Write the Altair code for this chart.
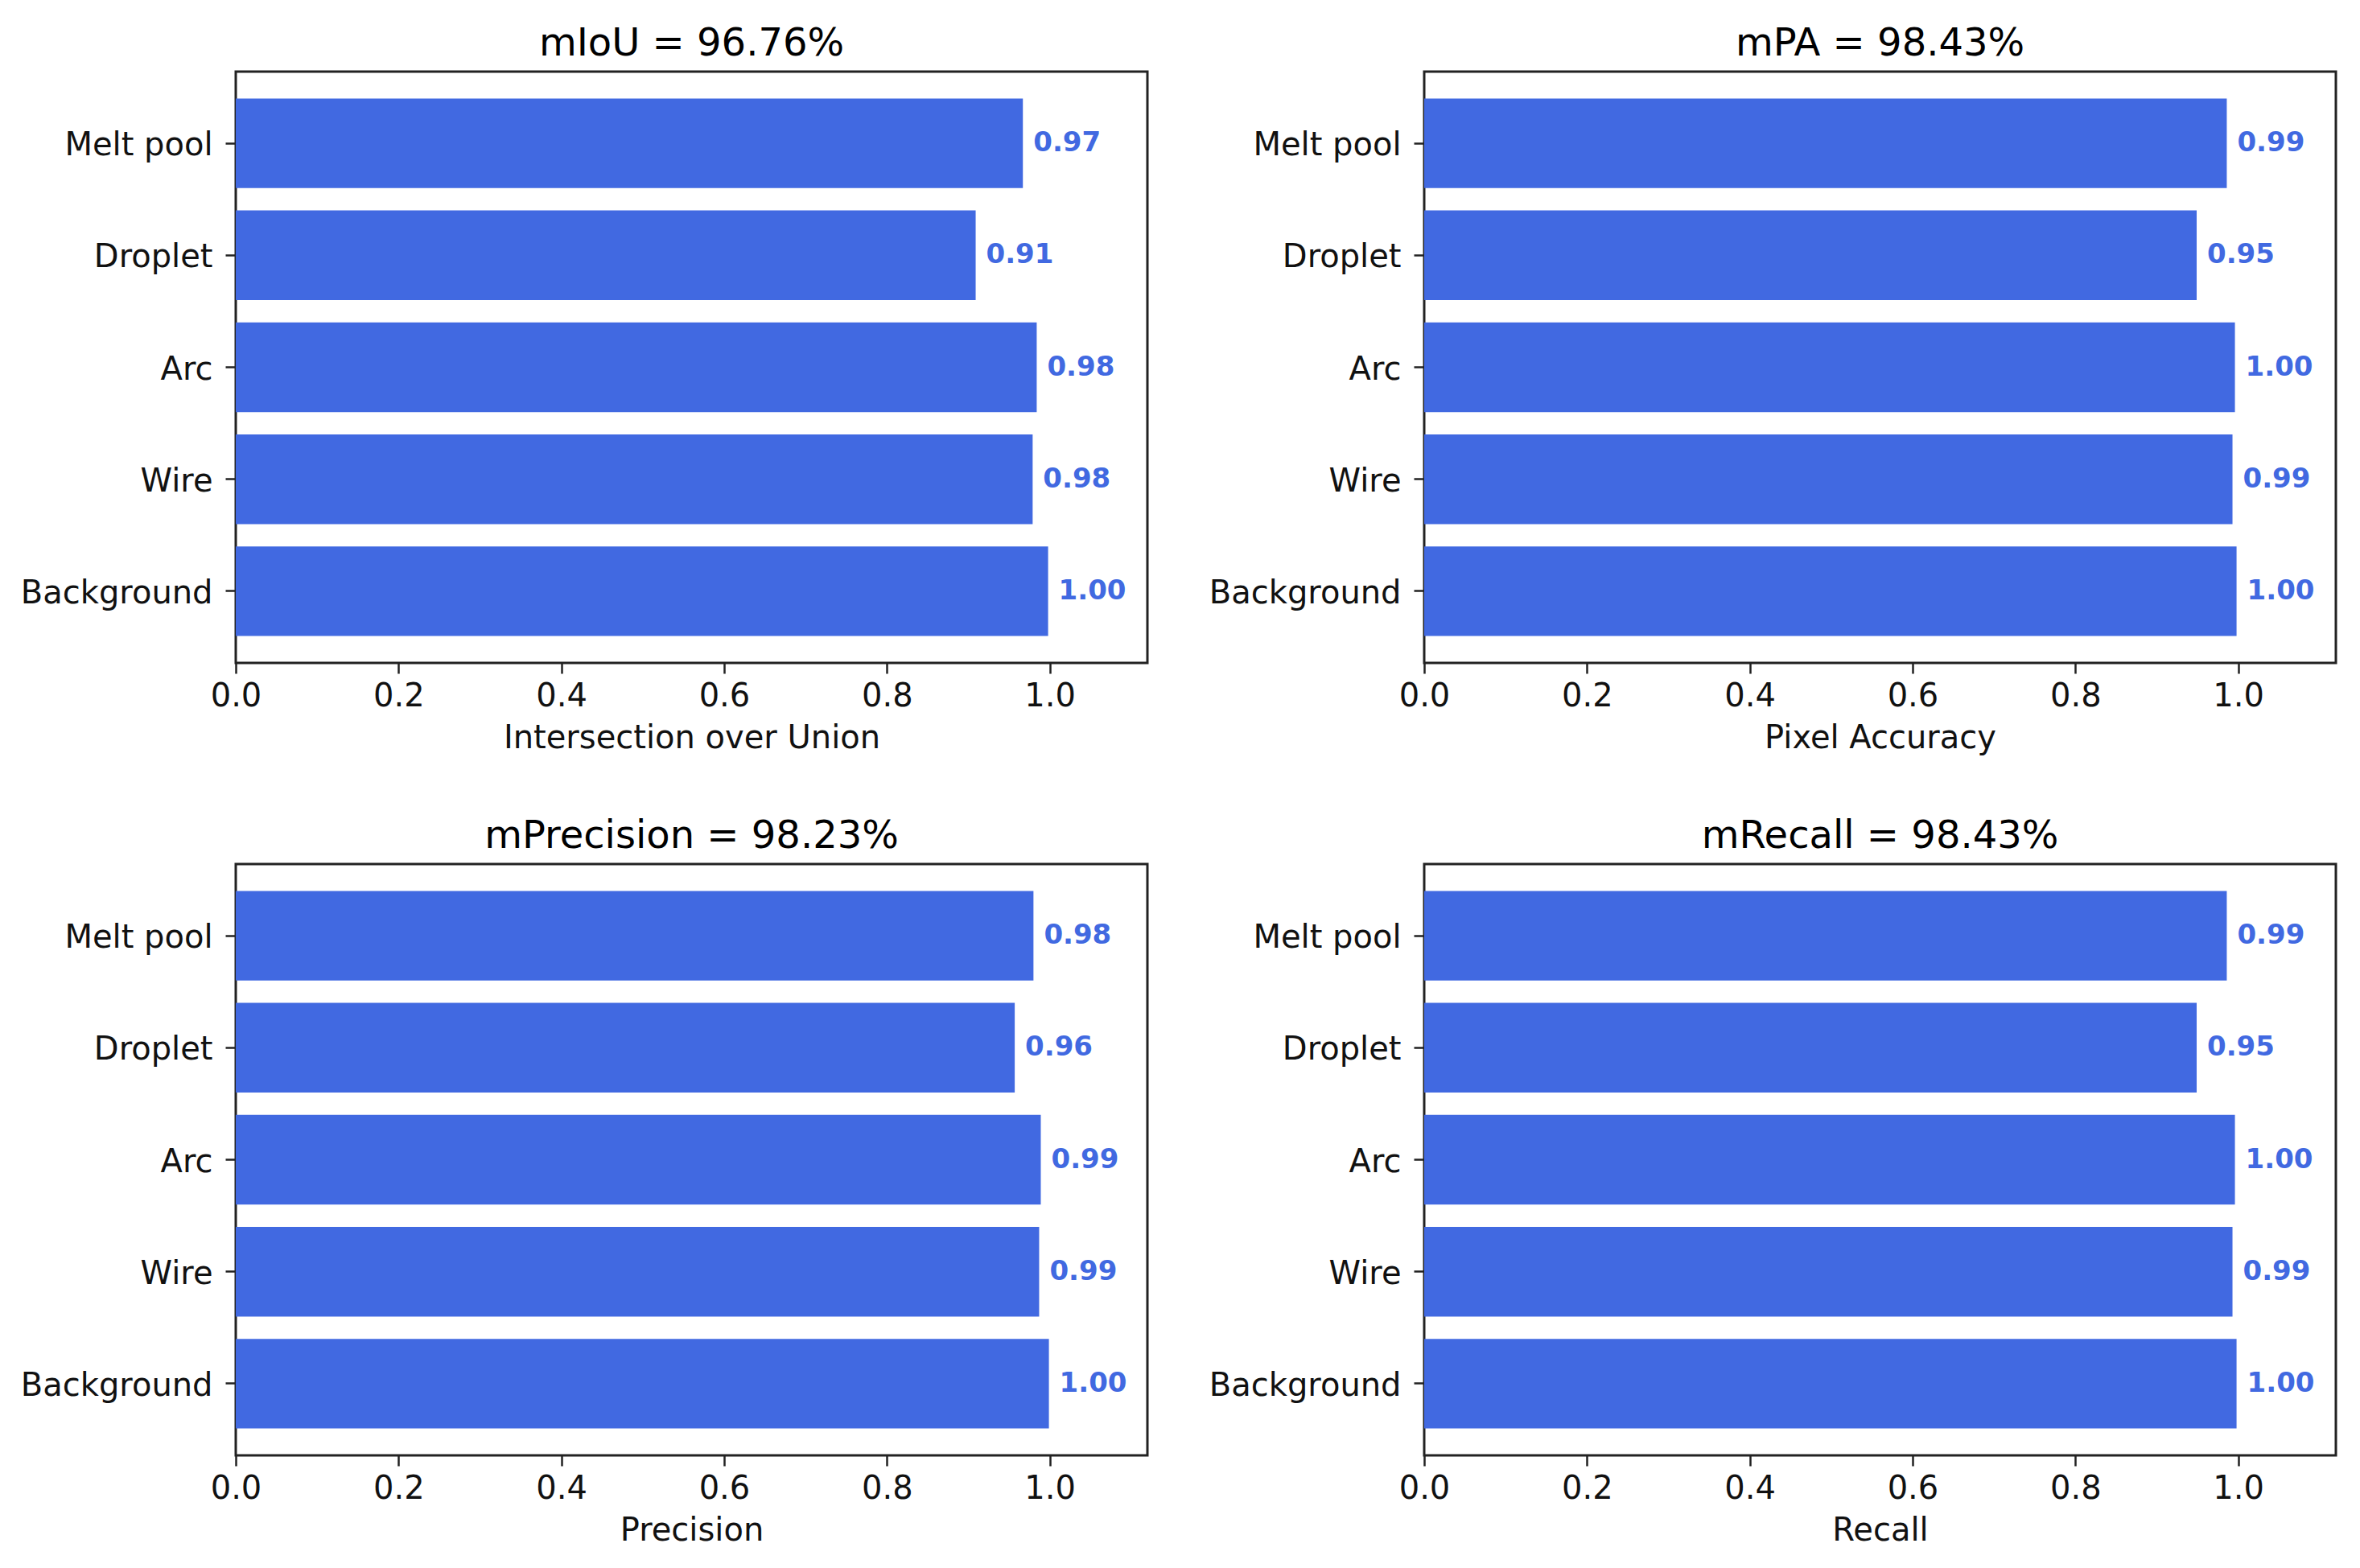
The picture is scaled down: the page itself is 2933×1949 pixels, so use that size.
import altair as alt
import pandas as pd

classes = ["Melt pool", "Droplet", "Arc", "Wire", "Background"]
iou = [0.967, 0.909, 0.984, 0.979, 0.998]
pa = [0.986, 0.949, 0.996, 0.993, 0.998]
precision = [0.980, 0.957, 0.989, 0.987, 0.999]
recall = [0.986, 0.949, 0.996, 0.993, 0.998]
titles = ["mIoU = 96.76%", "mPA = 98.43%", "mPrecision = 98.23%", "mRecall = 98.43%"]
xlabels = ["Intersection over Union", "Pixel Accuracy", "Precision", "Recall"]
x_ticks = [0.0, 0.2, 0.4, 0.6, 0.8, 1.0]

BLUE = "#4169E1"
FONT = "DejaVu Sans"


def panel(values, title, xlabel):
    df = pd.DataFrame({"cls": classes, "val": values})
    x = alt.X(
        "val:Q",
        scale=alt.Scale(domain=[0, 1.12], nice=False, zero=True),
        axis=alt.Axis(
            values=x_ticks,
            format=".1f",
            title=xlabel,
            labelPadding=8,
            titlePadding=12,
            labelFlush=False,
            labelOverlap=False,
        ),
    )
    y = alt.Y(
        "cls:N",
        sort=classes,
        scale=alt.Scale(paddingInner=0.2, paddingOuter=0.24),
        axis=alt.Axis(title=None, labelPadding=16, labelLimit=500, labelOffset=3,
                      minExtent=270, maxExtent=270),
    )
    base = alt.Chart(df).encode(x=x, y=y)
    bars = base.mark_bar(color=BLUE)
    text = base.mark_text(
        align="left",
        baseline="middle",
        dx=13,
        fontSize=34,
        fontWeight="bold",
        color=BLUE,
        font=FONT,
    ).encode(text=alt.Text("val:Q", format=".2f"))
    return (bars + text).properties(
        width=1133,
        height=735,
        title=alt.TitleParams(text=title, fontSize=48, fontWeight="normal",
                              font=FONT, color="black", offset=10, anchor="middle"),
    )


p1 = panel(iou, titles[0], xlabels[0])
p2 = panel(pa, titles[1], xlabels[1])
p3 = panel(precision, titles[2], xlabels[2])
p4 = panel(recall, titles[3], xlabels[3])

chart = alt.vconcat(
    alt.hconcat(p1, p2, spacing=70),
    alt.hconcat(p3, p4, spacing=70),
    spacing=75,
).properties(
    padding={"left": 13, "top": 21, "right": 10, "bottom": 10},
    background="white",
).configure_view(
    stroke="#222222", strokeWidth=3
).configure_axis(
    grid=False,
    domain=False,
    labelFont=FONT,
    titleFont=FONT,
    labelFontSize=40,
    titleFontSize=40,
    titleFontWeight="normal",
    labelColor="#111111",
    titleColor="#111111",
    tickColor="#222222",
    tickSize=13,
    tickWidth=2.5,
)

chart.save("out.html", embed_options={"renderer": "svg", "actions": False})
